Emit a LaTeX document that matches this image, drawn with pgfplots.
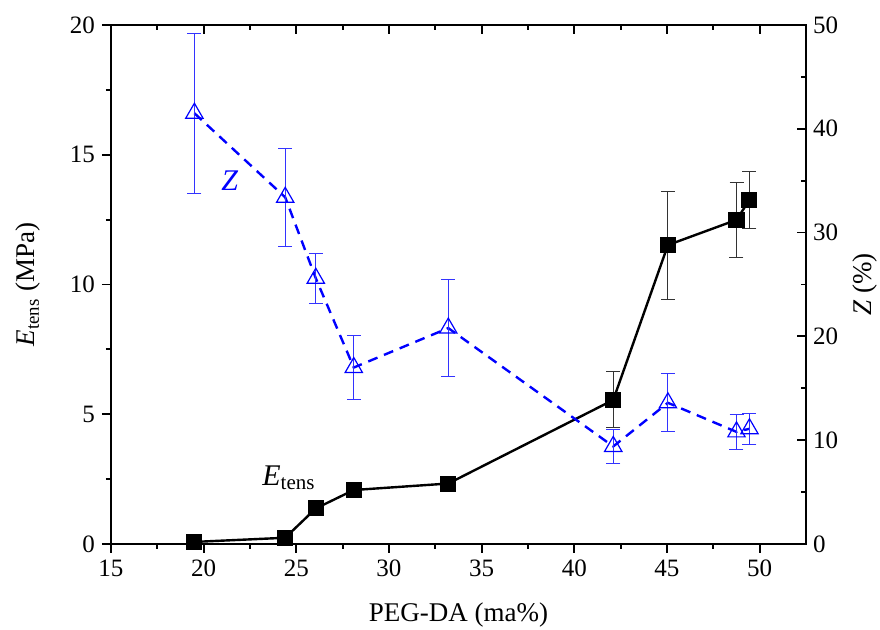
\documentclass[border=0pt]{standalone}
\usepackage{fontspec}
\setmainfont{Liberation Serif}
\usepackage{pgfplots}
\pgfplotsset{compat=1.18}

% E_tens (MPa) and Z (%) vs PEG-DA content
\pgfplotstableread{
x     E      dE
19.5  0.08   0.05
24.4  0.24   0.12
26.05 1.37   0.10
28.1  2.08   0.10
33.2  2.33   0.22
42.1  5.55   1.08
45.05 11.52  2.08
48.75 12.49  1.45
49.45 13.26  1.10
}\Etab
\pgfplotstableread{
x     Z      dZ
19.5  41.5   7.7
24.4  33.4   4.7
26.05 25.6   2.4
28.1  17.0   3.1
33.2  20.8   4.7
42.1  9.4    1.6
45.05 13.6   2.8
48.75 10.8   1.7
49.45 11.1   1.5
}\Ztab

\pgfplotsset{
  base/.style={
    scale only axis, width=347.5pt, height=259.5pt,
    xmin=15, xmax=52.5,
    axis line style={line width=1pt},
    major tick length=4.5pt, minor tick length=2.5pt,
    every tick/.style={black, line width=0.9pt},
    minor tick num=1,
    tick label style={font=\fontsize{12.5}{14}\selectfont},
    label style={font=\fontsize{13.5}{15}\selectfont},
    /pgf/number format/assume math mode=true,
  },
}

\begin{document}
\begin{tikzpicture}
\begin{axis}[base, name=ax,
  ymin=0, ymax=20, ytick={0,5,...,20},
  xtick={15,20,...,50},
  tick align=outside, xtick pos=bottom, ytick pos=left,
  xlabel={PEG-DA (ma\%)},
  ylabel={\textit{E}\textsubscript{tens} (MPa)},
  xlabel style={yshift=-6pt},
  ylabel style={yshift=8pt},
]
\addplot[black, line width=1.2pt, mark=square*, mark size=3.4pt,
  error bars/.cd, y dir=both, y explicit,
  error bar style={line width=0.5pt, black!80}, error mark options={rotate=90, mark size=3.5pt, line width=0.5pt}]
  table[x=x, y=E, y error=dE] {\Etab};
\node[font=\fontsize{15}{17}\selectfont, anchor=base] at (axis cs:24.6,2.25) {\textit{E}\textsubscript{tens}};
\node[font=\fontsize{15}{17}\selectfont\itshape, text=blue] at (axis cs:21.4,14.0) {Z};
\end{axis}
\begin{axis}[base,
  ymin=0, ymax=50, ytick={0,10,...,50},
  xtick={15,20,...,50}, xticklabels={},
  tick align=inside, xtick pos=top, ytick pos=right, yticklabel pos=right,
  ylabel={\textit{Z} (\%)},
  ylabel style={yshift=-0.5pt},
]
\addplot[blue, line width=1.2pt, dash pattern=on 5pt off 3.5pt,
  mark=triangle, mark size=5pt, mark options={solid, line width=0.6pt, fill=white},
  error bars/.cd, y dir=both, y explicit,
  error bar style={solid, line width=0.5pt, blue!80}, error mark options={solid, rotate=90, mark size=3.5pt, line width=0.5pt}]
  table[x=x, y=Z, y error=dZ] {\Ztab};
\end{axis}
\pgfresetboundingbox
\path[use as bounding box] ([shift={(-55.5pt,-43pt)}]ax.south west) rectangle ([shift={(37pt,12.5pt)}]ax.north east);
\end{tikzpicture}
\end{document}
